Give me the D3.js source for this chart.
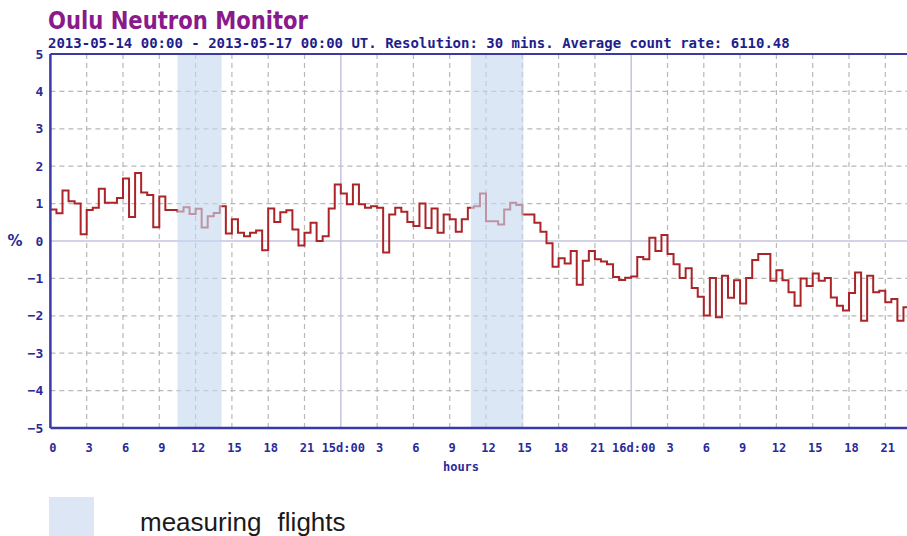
<!DOCTYPE html>
<html><head><meta charset="utf-8">
<script src="https://cdn.jsdelivr.net/npm/d3@7"></script>
<style>
body{margin:0;background:#fff;}
svg{display:block;}
</style></head>
<body>
<svg id="c" width="907" height="536"></svg>
<script>
// ---- data ----
const stepHours = 0.5; // resolution 30 mins
const values = [
 0.84,0.74,1.35,1.06,1.00,0.18,0.83,0.89,1.40,1.02,
 1.02,1.15,1.67,0.64,1.82,1.30,1.23,0.37,1.19,0.83,
 0.83,0.79,0.90,0.72,0.86,0.36,0.66,0.75,0.93,0.20,
 0.58,0.22,0.13,0.22,0.28,-0.25,0.87,0.51,0.77,0.82,
 0.31,-0.12,0.22,0.49,0.00,0.13,0.87,1.51,1.27,0.98,
 1.51,0.98,0.89,0.93,0.89,-0.31,0.71,0.89,0.78,0.51,
 0.40,1.00,0.35,0.87,0.22,0.71,0.58,0.25,0.58,0.89,
 0.93,1.27,0.53,0.53,0.44,0.84,1.02,0.96,0.71,0.71,
 0.49,0.25,-0.06,-0.69,-0.46,-0.60,-0.27,-1.17,-0.53,-0.27,
 -0.49,-0.55,-0.62,-0.96,-1.04,-0.98,-0.95,-0.43,-0.49,0.09,
 -0.27,0.16,-0.35,-0.62,-0.99,-0.73,-1.26,-1.49,-1.99,-0.99,
 -2.04,-0.93,-1.52,-1.05,-1.67,-0.99,-0.51,-0.35,-0.35,-1.06,
 -0.78,-1.05,-1.37,-1.73,-1.00,-1.20,-0.87,-1.06,-0.99,-1.51,
 -1.73,-1.86,-1.39,-0.84,-2.13,-0.93,-1.37,-1.33,-1.64,-1.55,
 -2.13,-1.77
];
const xTickHours = [0,3,6,9,12,15,18,21,24,27,30,33,36,39,42,45,48,51,54,57,60,63,66,69];
const xTickLabels = ["0","3","6","9","12","15","18","21","15d:00","3","6","9","12","15","18","21","16d:00","3","6","9","12","15","18","21"];
const yTicks = [-5,-4,-3,-2,-1,0,1,2,3,4,5];
const flightStart = [10.5, 34.75];
const flightEnd = [14.15, 39.1];
const titleText = "Oulu Neutron Monitor";
const subtitleText = "2013-05-14 00:00 - 2013-05-17 00:00 UT. Resolution: 30 mins. Average count rate: 6110.48";
const legendText = "measuring flights";

// ---- layout ----
const svg = d3.select("#c");
const plotLeft = 50.4, plotTop = 54, plotBottom = 428, pxPerHour = 12.1;
const x = d3.scaleLinear().domain([0, 72]).range([plotLeft, plotLeft + 72 * pxPerHour]);
const y = d3.scaleLinear().domain([-5, 5]).range([plotBottom, plotTop]);
const navy = "#2a2a98";
const axisFont = "'DejaVu Sans Mono', monospace";

// gridlines horizontal
svg.append("g").selectAll("line").data(yTicks.filter(d => d > -5 && d < 5)).join("line")
  .attr("x1", plotLeft).attr("x2", 907).attr("y1", d => y(d)).attr("y2", d => y(d))
  .attr("stroke", d => d === 0 ? "#c4c4dc" : "#b8b8b8")
  .attr("stroke-width", d => d === 0 ? 1.5 : 1.2)
  .attr("stroke-dasharray", d => d === 0 ? null : "5,4");
// gridlines vertical
svg.append("g").selectAll("line").data(xTickHours.filter(d => d > 0)).join("line")
  .attr("x1", d => x(d)).attr("x2", d => x(d)).attr("y1", plotTop).attr("y2", plotBottom)
  .attr("stroke", d => d % 24 === 0 ? "#c4c4dc" : "#b8b8b8")
  .attr("stroke-width", d => d % 24 === 0 ? 1.5 : 1.2)
  .attr("stroke-dasharray", d => d % 24 === 0 ? null : "5,4");

// data line (step)
const pts = values.map((v, i) => [i * stepHours, v]);
pts.push([values.length * stepHours, values[values.length - 1]]);
const line = d3.line().x(d => x(d[0])).y(d => y(d[1])).curve(d3.curveStepAfter);
svg.append("path").attr("d", line(pts)).attr("fill", "none")
  .attr("stroke", "#ab2528").attr("stroke-width", 2);

// flight shading (overlay)
svg.append("g").selectAll("rect").data(flightStart).join("rect")
  .attr("x", (d) => x(d)).attr("width", (d, i) => x(flightEnd[i]) - x(d))
  .attr("y", plotTop).attr("height", plotBottom - plotTop)
  .attr("fill", "#c6d8f0").attr("fill-opacity", 0.62);

// axes frame
svg.append("line").attr("x1", plotLeft).attr("x2", 907).attr("y1", plotTop).attr("y2", plotTop)
  .attr("stroke", "#3a3aa6").attr("stroke-width", 2);
svg.append("line").attr("x1", plotLeft).attr("x2", 907).attr("y1", plotBottom).attr("y2", plotBottom)
  .attr("stroke", "#3a3aa6").attr("stroke-width", 2.5);
svg.append("line").attr("x1", plotLeft).attr("x2", plotLeft).attr("y1", plotTop).attr("y2", plotBottom)
  .attr("stroke", "#3a3aa6").attr("stroke-width", 2.5);

// x axis labels
const xa = svg.append("g").attr("transform", `translate(0,${plotBottom})`)
  .call(d3.axisBottom(x).tickValues(xTickHours).tickFormat((d, i) => xTickLabels[i]).tickSize(0).tickPadding(15));
xa.select(".domain").remove();
xa.selectAll("text").attr("fill", navy).attr("font-family", axisFont).attr("font-weight", "bold").attr("font-size", 12)
  .attr("dx", 2);
// y axis labels
const ya = svg.append("g").attr("transform", `translate(${plotLeft},0)`)
  .call(d3.axisLeft(y).tickValues(yTicks).tickFormat(d3.format("d")).tickSize(0).tickPadding(7));
ya.select(".domain").remove();
ya.selectAll("text").attr("fill", navy).attr("font-family", axisFont).attr("font-weight", "bold").attr("font-size", 13);

svg.append("text").attr("x", 15).attr("y", y(0) + 5).attr("text-anchor", "middle")
  .attr("fill", navy).attr("font-family", "'DejaVu Sans', sans-serif").attr("font-weight", "bold").attr("font-size", 15).text("%");
svg.append("text").attr("x", 461).attr("y", 471).attr("text-anchor", "middle")
  .attr("fill", navy).attr("font-family", axisFont).attr("font-weight", "bold").attr("font-size", 12).text("hours");

// titles
svg.append("text").attr("x", 48).attr("y", 29).attr("fill", "#8a1a8c")
  .attr("font-family", "'DejaVu Sans', sans-serif").attr("font-weight", "bold").attr("font-size", 25)
  .attr("textLength", 260).attr("lengthAdjust", "spacingAndGlyphs").text(titleText);
svg.append("text").attr("x", 48).attr("y", 48).attr("fill", "#1e1e8c")
  .attr("font-family", axisFont).attr("font-weight", "bold").attr("font-size", 14).text(subtitleText);

// legend
svg.append("rect").attr("x", 49).attr("y", 497).attr("width", 45).attr("height", 39).attr("fill", "#dce6f4");
svg.append("text").attr("x", 140).attr("y", 531).attr("fill", "#1a1a1a")
  .attr("font-family", "'Liberation Sans', Arial, sans-serif").attr("font-size", 26).attr("word-spacing", 9).text(legendText);
</script>
</body></html>
